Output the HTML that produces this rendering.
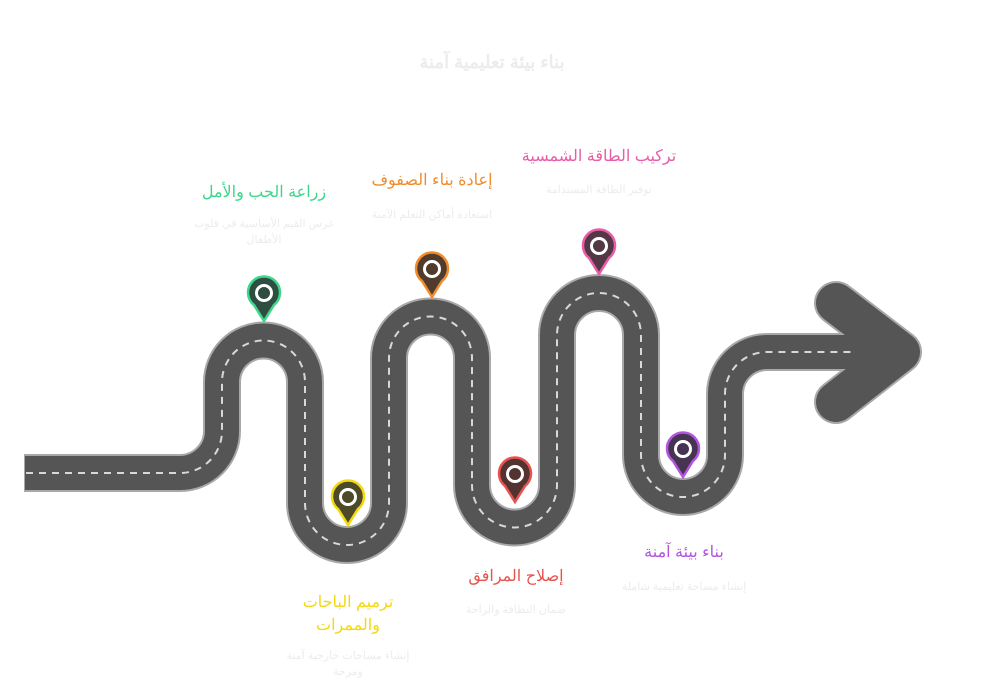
<!DOCTYPE html>
<html><head><meta charset="utf-8"><style>
html,body{margin:0;padding:0;background:#fff;}
body{width:984px;height:694px;position:relative;overflow:hidden;font-family:"Liberation Sans","Noto Sans CJK SC",sans-serif;}
.t{position:absolute;text-align:center;direction:rtl;}
.h{font-size:16px;}
.d{font-size:11px;color:#ececec;line-height:16px;}
</style></head><body>
<svg width="984" height="694" style="position:absolute;left:0;top:0">
<defs>
<path id="road" d="M24,473 L180,473 A42,42 0 0 0 222,431 L222,382 A41.5,41.5 0 0 1 305,382 L305,503 A42,42 0 0 0 389,503 L389,358 A41.5,41.5 0 0 1 472,358 L472,485 A42.5,42.5 0 0 0 557,485 L557,335 A42,42 0 0 1 641,335 L641,455 A42,42 0 0 0 725,455 L725,394 A42,42 0 0 1 767,352 L880,352"/>
</defs>
<path d="M836,303 L900,352 L836,402" fill="none" stroke="#a8a8a8" stroke-width="44" stroke-linecap="round" stroke-linejoin="round"/>
<use href="#road" fill="none" stroke="#a8a8a8" stroke-width="38"/>
<path d="M836,303 L900,352 L836,402" fill="none" stroke="#555" stroke-width="40" stroke-linecap="round" stroke-linejoin="round"/>
<path d="M25,473 L180,473 A42,42 0 0 0 222,431 L222,382 A41.5,41.5 0 0 1 305,382 L305,503 A42,42 0 0 0 389,503 L389,358 A41.5,41.5 0 0 1 472,358 L472,485 A42.5,42.5 0 0 0 557,485 L557,335 A42,42 0 0 1 641,335 L641,455 A42,42 0 0 0 725,455 L725,394 A42,42 0 0 1 767,352 L890,352" fill="none" stroke="#555" stroke-width="34"/>
<path d="M26,473 L180,473 A42,42 0 0 0 222,431 L222,382 A41.5,41.5 0 0 1 305,382 L305,503 A42,42 0 0 0 389,503 L389,358 A41.5,41.5 0 0 1 472,358 L472,485 A42.5,42.5 0 0 0 557,485 L557,335 A42,42 0 0 1 641,335 L641,455 A42,42 0 0 0 725,455 L725,394 A42,42 0 0 1 767,352 L855,352" fill="none" stroke="#d8d8d8" stroke-width="2" stroke-dasharray="7,6"/>
<g stroke-width="2.5">
<g transform="translate(264,293)"><path d="M0,28 L-10,12 A16,16 0 1 1 10,12 Z" fill="#2f4d40" stroke="#3dd68c"/><circle r="7.5" fill="none" stroke="#fff" stroke-width="3"/><circle r="4.5" fill="#2f4d40" stroke="none"/></g>
<g transform="translate(348,497)"><path d="M0,28 L-10,12 A16,16 0 1 1 10,12 Z" fill="#4d4a2a" stroke="#f4d90f"/><circle r="7.5" fill="none" stroke="#fff" stroke-width="3"/><circle r="4.5" fill="#4d4a2a" stroke="none"/></g>
<g transform="translate(432,269)"><path d="M0,28 L-10,12 A16,16 0 1 1 10,12 Z" fill="#503b2c" stroke="#f08c2e"/><circle r="7.5" fill="none" stroke="#fff" stroke-width="3"/><circle r="4.5" fill="#503b2c" stroke="none"/></g>
<g transform="translate(515,474)"><path d="M0,28 L-10,12 A16,16 0 1 1 10,12 Z" fill="#533331" stroke="#e8534f"/><circle r="7.5" fill="none" stroke="#fff" stroke-width="3"/><circle r="4.5" fill="#533331" stroke="none"/></g>
<g transform="translate(599,246)"><path d="M0,28 L-10,12 A16,16 0 1 1 10,12 Z" fill="#523745" stroke="#e85ca8"/><circle r="7.5" fill="none" stroke="#fff" stroke-width="3"/><circle r="4.5" fill="#523745" stroke="none"/></g>
<g transform="translate(683,449)"><path d="M0,28 L-10,12 A16,16 0 1 1 10,12 Z" fill="#463453" stroke="#b455e0"/><circle r="7.5" fill="none" stroke="#fff" stroke-width="3"/><circle r="4.5" fill="#463453" stroke="none"/></g>
</g>
</svg>
<div class="t" style="left:342px;top:52px;width:300px;font-size:18px;font-weight:bold;color:#ececec;">بناء بيئة تعليمية آمنة</div>
<div class="t h" style="left:164px;top:182px;width:200px;color:#3dd68c;">زراعة الحب والأمل</div>
<div class="t d" style="left:184px;top:216px;width:160px;">غرس القيم الأساسية في قلوب الأطفال</div>
<div class="t h" style="left:352px;top:170px;width:160px;color:#f08c2e;">إعادة بناء الصفوف</div>
<div class="t d" style="left:352px;top:207px;width:160px;">استعادة أماكن التعلم الآمنة</div>
<div class="t h" style="left:509px;top:146px;width:180px;color:#e85ca8;">تركيب الطاقة الشمسية</div>
<div class="t d" style="left:519px;top:182px;width:160px;">توفير الطاقة المستدامة</div>
<div class="t h" style="left:283px;top:591px;width:130px;line-height:23px;color:#f4d90f;">ترميم الباحات والممرات</div>
<div class="t d" style="left:273px;top:648px;width:150px;">إنشاء مساحات خارجية آمنة ومرحة</div>
<div class="t h" style="left:436px;top:566px;width:160px;color:#e8534f;">إصلاح المرافق</div>
<div class="t d" style="left:436px;top:602px;width:160px;">ضمان النظافة والراحة</div>
<div class="t h" style="left:604px;top:542px;width:160px;color:#b455e0;">بناء بيئة آمنة</div>
<div class="t d" style="left:594px;top:579px;width:180px;">إنشاء مساحة تعليمية شاملة</div>
</body></html>
